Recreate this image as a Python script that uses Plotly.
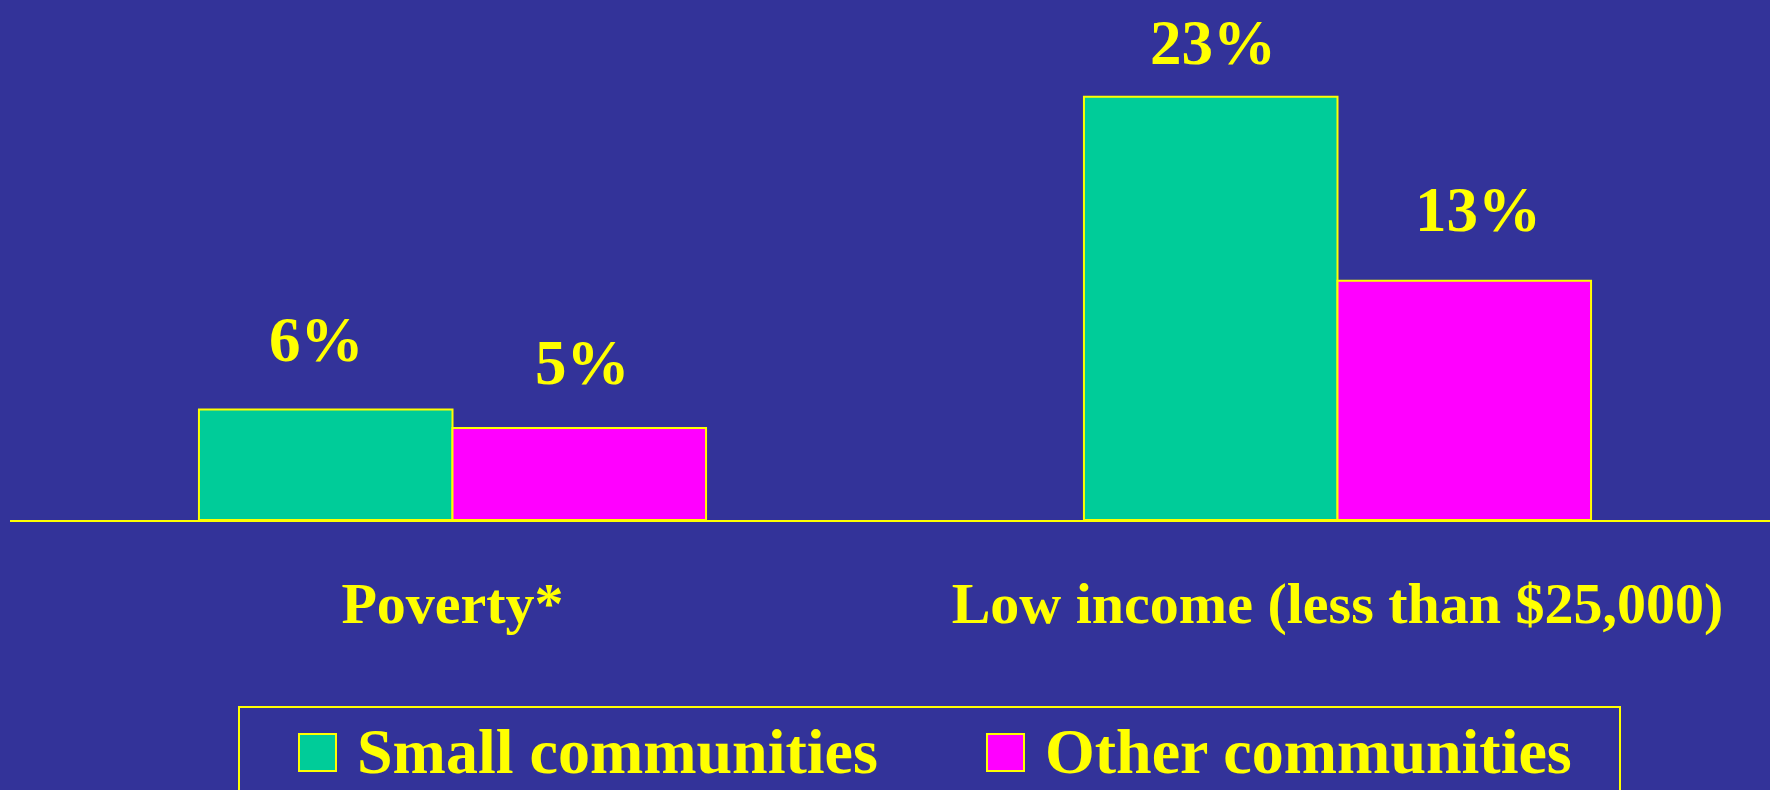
import plotly.graph_objects as go

# chart data
categories = ["Poverty*", "Low income (less than $25,000)"]
small_communities = [6, 23]
other_communities = [5, 13]
series_names = ["Small communities", "Other communities"]

BG = "#333399"
YELLOW = "#FFFF00"
GREEN = "#00CC99"
MAGENTA = "#FF00FF"
FONT = "Liberation Serif"

W, H = 1770, 790
ML, MR, MT, MB = 10, 0, 0, 270
BARGAP = 0.427

# pixel nudges of each value label from its bar top, per category: (small, other)
LABEL_YSHIFT = [(33, 28), (17, 34)]
LABEL_XSHIFT = [(-9, 3), (2, 14)]


# convert pixel coordinates to paper coordinates (for the hand-drawn legend)
def px(x):
    return (x - ML) / (W - ML - MR)


def py(y):
    return (H - MB - y) / (H - MT - MB)


fig = go.Figure()
fig.add_trace(go.Bar(x=categories, y=small_communities, name=series_names[0],
                     marker=dict(color=GREEN, line=dict(color=YELLOW, width=2)),
                     showlegend=False))
fig.add_trace(go.Bar(x=categories, y=other_communities, name=series_names[1],
                     marker=dict(color=MAGENTA, line=dict(color=YELLOW, width=2)),
                     showlegend=False))

# value labels above bars
offset = (1 - BARGAP) / 4
for i, cat in enumerate(categories):
    for j, (vals, sign) in enumerate(((small_communities, -1), (other_communities, 1))):
        fig.add_annotation(x=i + sign * offset, y=vals[i], text=f"{vals[i]}%",
                           showarrow=False, yanchor="bottom",
                           yshift=LABEL_YSHIFT[i][j], xshift=LABEL_XSHIFT[i][j],
                           font=dict(family=FONT, size=63, color=YELLOW, weight="bold"))

# legend box drawn by hand so the swatches can be large
fig.add_shape(type="rect", xref="paper", yref="paper",
              x0=px(239), x1=px(1620), y0=py(707), y1=py(830),
              line=dict(color=YELLOW, width=2), fillcolor=BG, layer="below")
for name, color, x_sw, x_txt in ((series_names[0], GREEN, 299, 355),
                                 (series_names[1], MAGENTA, 987, 1043)):
    fig.add_shape(type="rect", xref="paper", yref="paper",
                  x0=px(x_sw), x1=px(x_sw + 37), y0=py(771), y1=py(734),
                  line=dict(color=YELLOW, width=2), fillcolor=color)
    fig.add_annotation(xref="paper", yref="paper", x=px(x_txt), y=py(789),
                       text=name, showarrow=False, xanchor="left", yanchor="bottom",
                       font=dict(family=FONT, size=64, color=YELLOW, weight="bold"))

fig.update_layout(
    width=W, height=H,
    margin=dict(l=ML, r=MR, t=MT, b=MB),
    paper_bgcolor=BG, plot_bgcolor=BG,
    barmode="group", bargap=BARGAP, bargroupgap=0,
    xaxis=dict(range=[-0.5, 1.4887], showgrid=False, zeroline=False,
               showline=True, linecolor=YELLOW, linewidth=2,
               ticks="", ticklabelstandoff=31,
               tickfont=dict(family=FONT, size=58, color=YELLOW, weight="bold")),
    yaxis=dict(range=[0, 28.26], visible=False),
)

# drop the browser's default page margin so the figure fills the window
fig.write_html("out.html", config={"displayModeBar": False},
               post_script="document.body.style.margin='0';")
